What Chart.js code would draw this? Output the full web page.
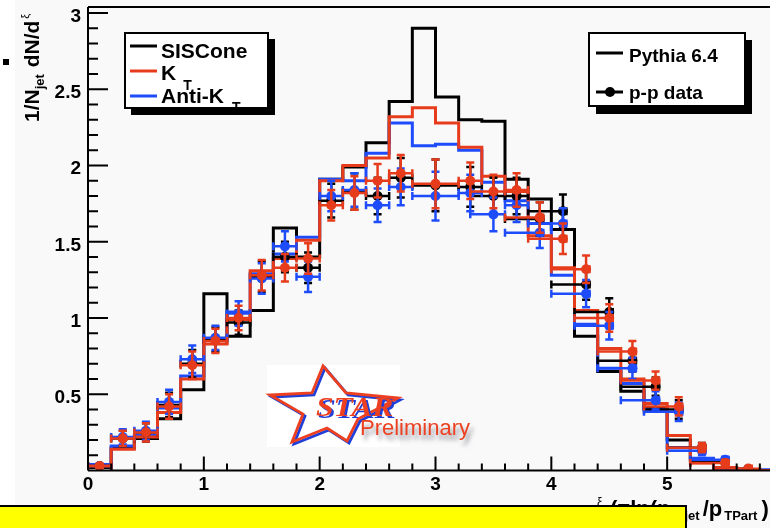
<!DOCTYPE html>
<html>
<head>
<meta charset="utf-8">
<style>
  html, body { margin: 0; padding: 0; overflow: hidden; background: #ffffff; width: 770px; height: 528px; }
  canvas { display: block; }
</style>
<script src="https://cdn.jsdelivr.net/npm/chart.js@4.4.1/dist/chart.umd.min.js"></script>
</head>
<body>
<canvas id="xiChart" width="800" height="528"></canvas>
<script>
// ---- histogram binning (xi) ----
const binEdges = [0.0, 0.2, 0.4, 0.6, 0.8, 1.0, 1.2, 1.4, 1.6, 1.8, 2.0, 2.2, 2.4, 2.6, 2.8, 3.0,
                  3.2, 3.4, 3.6, 3.8, 4.0, 4.2, 4.4, 4.6, 4.8, 5.0, 5.2, 5.4, 5.6, 5.8, 6.0];

// ---- Pythia 6.4 predictions, one value per bin ----
const sisconeMC = [0.02, 0.15, 0.21, 0.34, 0.53, 1.16, 0.88, 1.05, 1.59, 1.40, 1.91, 1.99, 2.15, 2.42, 2.90,
                   2.45, 2.30, 2.29, 1.91, 1.78, 1.58, 0.88, 0.65, 0.52, 0.41, 0.20, 0.07, 0.02, 0.0, 0.0];
const ktMC      = [0.03, 0.14, 0.22, 0.38, 0.60, 0.83, 0.99, 1.31, 1.39, 1.51, 1.90, 2.00, 2.05, 2.32, 2.38,
                   2.28, 2.12, 1.93, 1.83, 1.54, 1.33, 1.05, 0.80, 0.60, 0.44, 0.23, 0.05, 0.02, 0.01, 0.0];
const antiKtMC  = [0.04, 0.16, 0.23, 0.41, 0.62, 0.86, 1.04, 1.29, 1.42, 1.53, 1.91, 1.90, 2.08, 2.28, 2.13,
                   2.14, 2.10, 1.89, 1.77, 1.62, 1.28, 0.96, 0.67, 0.57, 0.40, 0.15, 0.08, 0.01, 0.005, 0.005];

// ---- p-p data points ----
const dataXi   = [0.1, 0.3, 0.5, 0.7, 0.9, 1.1, 1.3, 1.5, 1.7, 1.9, 2.1, 2.3, 2.5, 2.7, 3.0, 3.3, 3.5, 3.7,
                  3.9, 4.1, 4.3, 4.5, 4.7, 4.9, 5.1, 5.3, 5.5, 5.7];
const dataXLo  = [0.1, 0.1, 0.1, 0.1, 0.1, 0.1, 0.1, 0.1, 0.1, 0.1, 0.1, 0.1, 0.1, 0.1, 0.2, 0.1, 0.2, 0.1,
                  0.3, 0.3, 0.3, 0.3, 0.3, 0.3, 0.3, 0.3, 0.3, 0.3];
const dataXHi  = [0.1, 0.1, 0.1, 0.1, 0.1, 0.1, 0.1, 0.1, 0.1, 0.1, 0.1, 0.1, 0.1, 0.1, 0.2, 0.1, 0.1, 0.1,
                  0.03, 0.03, 0.03, 0.03, 0.03, 0.03, 0.03, 0.03, 0.03, 0.03];

const sisconeData = [0.03, 0.21, 0.25, 0.43, 0.70, 0.86, 0.97, 1.27, 1.40, 1.33, 1.77, 1.83, 1.80, 1.92, 1.87, 1.86,
                     1.80, 1.80, 1.65, 1.70, 1.22, 1.04, 0.72, 0.55, 0.40, 0.15, 0.06, 0.01];
const sisconeErr  = [0.01, 0.05, 0.06, 0.08, 0.09, 0.08, 0.08, 0.10, 0.10, 0.10, 0.11, 0.12, 0.12, 0.13, 0.17, 0.13,
                     0.12, 0.12, 0.11, 0.11, 0.10, 0.09, 0.07, 0.06, 0.06, 0.03, 0.02, 0.005];
const ktData      = [0.03, 0.21, 0.25, 0.42, 0.69, 0.85, 1.00, 1.28, 1.33, 1.39, 1.74, 1.82, 1.90, 1.95, 1.88, 1.90,
                     1.83, 1.84, 1.66, 1.52, 1.32, 1.00, 0.78, 0.59, 0.42, 0.15, 0.05, 0.013];
const ktErr       = [0.01, 0.05, 0.06, 0.08, 0.09, 0.08, 0.08, 0.10, 0.09, 0.10, 0.10, 0.11, 0.11, 0.12, 0.16, 0.12,
                     0.11, 0.11, 0.10, 0.10, 0.09, 0.09, 0.07, 0.06, 0.06, 0.03, 0.02, 0.005];
const antiKtData  = [0.03, 0.22, 0.26, 0.45, 0.73, 0.87, 1.03, 1.26, 1.47, 1.27, 1.80, 1.84, 1.74, 1.86, 1.80, 1.82,
                     1.68, 1.74, 1.56, 1.62, 1.16, 0.95, 0.67, 0.46, 0.385, 0.13, 0.07, 0.01];
const antiKtErr   = [0.01, 0.05, 0.06, 0.08, 0.09, 0.08, 0.08, 0.10, 0.10, 0.10, 0.10, 0.11, 0.11, 0.12, 0.16, 0.12,
                     0.11, 0.11, 0.10, 0.10, 0.09, 0.09, 0.07, 0.06, 0.06, 0.03, 0.02, 0.005];

// ---- axis ticks ----
const xTicks = [0, 1, 2, 3, 4, 5];
const xTickLabels = ['0', '1', '2', '3', '4', '5'];
const yTicks = [0.5, 1, 1.5, 2, 2.5, 3];
const yTickLabels = ['0.5', '1', '1.5', '2', '2.5', '3'];

const RED = '#e63c1c';
const BLUE = '#1f4cfb';
const BLACK = '#000000';
const FONT = '"Liberation Sans", Arial, Helvetica, sans-serif';

function histPoints(values) {
  const pts = values.map((v, i) => ({ x: binEdges[i], y: v }));
  pts.push({ x: binEdges[values.length], y: values[values.length - 1] });
  return pts;
}
function dataPoints(values) {
  return values.map((v, i) => ({ x: dataXi[i], y: v }));
}
function histDataset(label, values, color, order) {
  return {
    type: 'line', label, data: histPoints(values), stepped: true,
    borderColor: color, borderWidth: 3, pointRadius: 0, fill: false, order
  };
}
function dataDataset(label, values, errs, color, order) {
  return {
    type: 'scatter', label, data: dataPoints(values),
    errY: errs, errXLo: dataXLo, errXHi: dataXHi,
    backgroundColor: color, borderColor: color, pointRadius: 5, pointBorderWidth: 0,
    pointBackgroundColor: color, order
  };
}

function richText(ctx, parts, x, y) {
  let cx = x;
  for (const p of parts) {
    ctx.font = (p.weight || 'bold') + ' ' + p.size + 'px ' + FONT;
    ctx.fillText(p.t, cx, y + (p.dy || 0));
    cx += ctx.measureText(p.t).width + (p.gap || 0);
  }
  return cx;
}

const rootStyle = {
  id: 'rootStyle',
  beforeDraw(chart) {
    const { ctx, width, height } = chart;
    ctx.save();
    ctx.fillStyle = '#f9f9f9';
    ctx.fillRect(0, 0, width, height);
    ctx.fillStyle = '#ffffff';
    ctx.fillRect(0, 0, 15, height);
    ctx.restore();
  },
  beforeDatasetDraw(chart, args) {
    const ds = chart.data.datasets[args.index];
    if (!ds.errY) return;
    const { ctx, chartArea } = chart;
    const xs = chart.scales.x, ys = chart.scales.y;
    ctx.save();
    ctx.beginPath();
    ctx.rect(chartArea.left, chartArea.top, chartArea.right - chartArea.left, chartArea.bottom - chartArea.top);
    ctx.clip();
    ctx.strokeStyle = ds.borderColor;
    ctx.lineWidth = 2.5;
    const cap = 4;
    ds.data.forEach((p, i) => {
      const px = xs.getPixelForValue(p.x);
      const py = ys.getPixelForValue(p.y);
      const yT = ys.getPixelForValue(p.y + ds.errY[i]);
      const yB = ys.getPixelForValue(p.y - ds.errY[i]);
      const xL = xs.getPixelForValue(p.x - ds.errXLo[i]);
      const xR = xs.getPixelForValue(p.x + ds.errXHi[i]);
      ctx.beginPath();
      ctx.moveTo(px, yT); ctx.lineTo(px, yB);
      ctx.moveTo(px - cap, yT); ctx.lineTo(px + cap, yT);
      ctx.moveTo(px - cap, yB); ctx.lineTo(px + cap, yB);
      ctx.moveTo(xL, py); ctx.lineTo(xR, py);
      ctx.moveTo(xL, py - cap); ctx.lineTo(xL, py + cap);
      ctx.moveTo(xR, py - cap); ctx.lineTo(xR, py + cap);
      ctx.stroke();
    });
    ctx.restore();
  },
  afterDatasetsDraw(chart) {
    const { ctx, chartArea } = chart;
    const xs = chart.scales.x, ys = chart.scales.y;
    const L = chartArea.left, R = chartArea.right, T = chartArea.top, B = chartArea.bottom;
    ctx.save();
    ctx.strokeStyle = '#000';
    ctx.lineWidth = 2;
    ctx.beginPath();
    ctx.moveTo(L, T); ctx.lineTo(R, T);
    ctx.moveTo(L, T); ctx.lineTo(L, B);
    ctx.moveTo(L, B); ctx.lineTo(R, B);
    ctx.stroke();
    // inward ticks on the y axis: majors every 0.5, minors every 0.1
    ctx.beginPath();
    for (let k = 1; k <= 30; k++) {
      const v = k / 10;
      const py = ys.getPixelForValue(v);
      const len = (k % 5 === 0) ? 20 : 10;
      ctx.moveTo(L, py); ctx.lineTo(L + len, py);
    }
    // inward ticks on the x axis: majors every 1, minors every 0.2
    for (let k = 1; k <= 30; k++) {
      const v = k / 5;
      const px = xs.getPixelForValue(v);
      const len = (k % 5 === 0) ? 14 : 7;
      ctx.moveTo(px, B); ctx.lineTo(px, B - len);
    }
    ctx.stroke();
    ctx.restore();
  },
  afterDraw(chart) {
    const { ctx } = chart;
    ctx.save();
    ctx.textBaseline = 'alphabetic';
    ctx.fillStyle = '#000';

    // y axis title, rotated
    ctx.save();
    ctx.translate(39, 122);
    ctx.rotate(-Math.PI / 2);
    richText(ctx, [
      { t: '1/N', size: 21 },
      { t: 'jet', size: 13, dy: 5, gap: 1 },
      { t: ' dN/d', size: 21, gap: 2 },
      { t: 'ξ', size: 11, dy: -10, weight: 'normal' }
    ], 0, 0);
    ctx.restore();

    // small marker at the left edge
    ctx.fillRect(3, 59, 6, 6);

    // x axis title
    ctx.fillStyle = '#000';
    richText(ctx, [{ t: 'ξ', size: 12, weight: 'normal' }], 597, 506);
    richText(ctx, [
      { t: '(=ln(p', size: 22, gap: 14 },
      { t: 'jet', size: 13, dy: 4, gap: 3 },
      { t: '/p', size: 22, gap: 2 },
      { t: 'TPart', size: 13, dy: 4, gap: 4 },
      { t: ')', size: 22 }
    ], 610, 516);

    // yellow banner over the lower strip
    ctx.fillStyle = '#ffff00';
    ctx.fillRect(-2, 506, 688, 30);
    ctx.strokeStyle = '#000';
    ctx.lineWidth = 2;
    ctx.strokeRect(-2, 506, 688, 30);

    // legend: jet algorithms
    ctx.fillStyle = '#000';
    ctx.fillRect(131, 39, 144, 76);
    ctx.fillStyle = '#fff';
    ctx.fillRect(125, 33, 143, 75);
    ctx.strokeStyle = '#000';
    ctx.lineWidth = 2;
    ctx.strokeRect(125, 33, 143, 75);
    ctx.lineWidth = 3;
    [[BLACK, 46], [RED, 71], [BLUE, 96]].forEach(([c, y]) => {
      ctx.strokeStyle = c;
      ctx.beginPath(); ctx.moveTo(130, y); ctx.lineTo(157, y); ctx.stroke();
    });
    ctx.fillStyle = '#000';
    richText(ctx, [{ t: 'SISCone', size: 21 }], 161, 58);
    richText(ctx, [{ t: 'K', size: 21, gap: 7 }, { t: 'T', size: 14, dy: 10 }], 161, 80);
    richText(ctx, [{ t: 'Anti-K', size: 21, gap: 8 }, { t: 'T', size: 14, dy: 9 }], 161, 103);

    // legend: sources
    ctx.fillStyle = '#000';
    ctx.fillRect(596, 40, 156, 74);
    ctx.fillStyle = '#fff';
    ctx.fillRect(589, 33, 156, 73);
    ctx.strokeStyle = '#000';
    ctx.lineWidth = 2;
    ctx.strokeRect(589, 33, 156, 73);
    ctx.lineWidth = 3;
    ctx.beginPath(); ctx.moveTo(596, 53); ctx.lineTo(623, 53); ctx.stroke();
    ctx.beginPath(); ctx.moveTo(596, 92); ctx.lineTo(623, 92); ctx.stroke();
    ctx.fillStyle = '#000';
    ctx.beginPath(); ctx.arc(610, 92, 5, 0, Math.PI * 2); ctx.fill();
    richText(ctx, [{ t: 'Pythia 6.4', size: 19 }], 629, 62);
    richText(ctx, [{ t: 'p-p data', size: 19 }], 629, 99);

    // STAR Preliminary badge
    ctx.fillStyle = '#ffffff';
    ctx.fillRect(267, 365, 133, 82);
    const star = [[323, 366], [346, 393], [398, 398], [358, 419], [347, 441],
                  [327, 428], [292, 442], [303, 414], [270, 395], [312, 393]];
    const outline = (color, dx, dy) => {
      ctx.strokeStyle = color; ctx.lineWidth = 2.8; ctx.lineJoin = 'miter';
      ctx.beginPath();
      star.forEach(([sx, sy], i) => i ? ctx.lineTo(sx + dx, sy + dy) : ctx.moveTo(sx + dx, sy + dy));
      ctx.closePath(); ctx.stroke();
    };
    outline('#1f3fd8', 2, 2);
    outline('#ec4020', 0, 0);
    ctx.save();
    ctx.translate(316, 416);
    ctx.scale(1.13, 1);
    ctx.font = 'italic bold 28px "Liberation Serif", "Times New Roman", serif';
    ctx.fillStyle = '#1f3fd8';
    ctx.fillText('STAR', 2, 1.5);
    ctx.fillStyle = '#ec4020';
    ctx.fillText('STAR', 0, 0);
    ctx.restore();
    ctx.save();
    ctx.font = '22px ' + FONT;
    ctx.shadowColor = 'rgba(70,70,90,0.55)';
    ctx.shadowBlur = 4;
    ctx.shadowOffsetX = 3;
    ctx.shadowOffsetY = 5;
    ctx.fillStyle = '#ec4020';
    ctx.fillText('Preliminary', 360, 435);
    ctx.restore();

    ctx.restore();
  }
};

const tickFont = { family: FONT, size: 19, weight: 'bold' };

new Chart(document.getElementById('xiChart'), {
  data: {
    datasets: [
      dataDataset('K_T data', ktData, ktErr, RED, 1),
      dataDataset('Anti-K_T data', antiKtData, antiKtErr, BLUE, 2),
      dataDataset('SISCone data', sisconeData, sisconeErr, BLACK, 3),
      histDataset('K_T Pythia', ktMC, RED, 4),
      histDataset('Anti-K_T Pythia', antiKtMC, BLUE, 5),
      histDataset('SISCone Pythia', sisconeMC, BLACK, 6)
    ]
  },
  options: {
    responsive: false,
    animation: false,
    devicePixelRatio: 1,
    layout: { padding: { top: 7, right: 17, left: 0, bottom: 0 } },
    plugins: { legend: { display: false }, tooltip: { enabled: false } },
    scales: {
      x: {
        type: 'linear', min: 0, max: 6,
        grid: { display: false, drawTicks: false },
        border: { display: false },
        ticks: { font: tickFont, color: '#000', padding: 3, maxRotation: 0, autoSkip: false,
                 callback: (v, i) => xTickLabels[i] },
        afterBuildTicks: s => { s.ticks = xTicks.map(v => ({ value: v })); },
        afterFit: s => { s.height = 57.5; s.paddingLeft = 0; s.paddingRight = 0; }
      },
      y: {
        type: 'linear', min: 0, max: 3.04,
        grid: { display: false, drawTicks: false },
        border: { display: false },
        ticks: { font: tickFont, color: '#000', padding: 7, labelOffset: 3.5,
                 callback: (v, i) => yTickLabels[i] },
        afterBuildTicks: s => { s.ticks = yTicks.map(v => ({ value: v })); },
        afterFit: s => { s.width = 88; s.paddingTop = 0; s.paddingBottom = 0; }
      }
    }
  },
  plugins: [rootStyle]
});
</script>
</body>
</html>
